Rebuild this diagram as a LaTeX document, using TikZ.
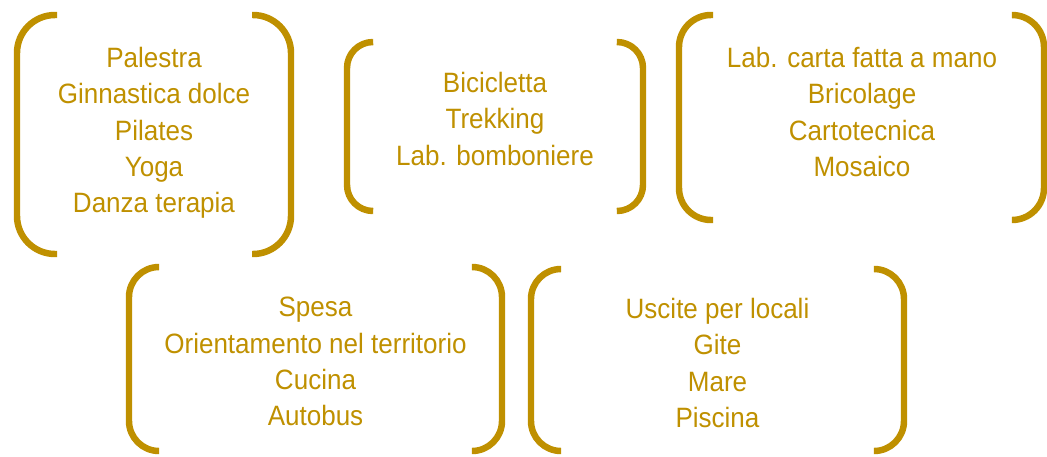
\documentclass[tikz,border=0pt]{standalone}
\usepackage{fontspec}
\setmainfont{Liberation Sans}[FakeStretch=0.93]
\definecolor{oro}{HTML}{BF9000}

\begin{document}
\begin{tikzpicture}[x=0.025cm, y=-0.025cm,
	parentesi/.style={oro, line width=4.6pt},
	lista/.style={anchor=north, inner sep=0pt, align=center, text=oro, font=\fontsize{19.9}{25.8}\selectfont}]
	\useasboundingbox (0,0) rectangle (1047,456);

	\draw[parentesi, rounded corners=0.95cm] (57,15) -- (17,15) -- (17,254) -- (57,254);
	\draw[parentesi, rounded corners=0.95cm] (252,15) -- (291,15) -- (291,254) -- (252,254);
	\draw[parentesi, rounded corners=0.65cm] (373,42) -- (347,42) -- (347,211) -- (373,211);
	\draw[parentesi, rounded corners=0.65cm] (617,42) -- (643,42) -- (643,211) -- (617,211);
	\draw[parentesi, rounded corners=0.8cm] (713,15) -- (679,15) -- (679,220) -- (713,220);
	\draw[parentesi, rounded corners=0.8cm] (1013,15) -- (1044,15) -- (1044,220) -- (1013,220);
	\draw[parentesi, rounded corners=0.75cm] (159,267) -- (129,267) -- (129,451) -- (159,451);
	\draw[parentesi, rounded corners=0.75cm] (473,267) -- (502,267) -- (502,451) -- (473,451);
	\draw[parentesi, rounded corners=0.75cm] (560,269) -- (531,269) -- (531,451) -- (560,451);
	\draw[parentesi, rounded corners=0.75cm] (874,269) -- (904,269) -- (904,451) -- (874,451);

	\node[lista] (sport) at (154,47) {Palestra\\Ginnastica dolce\\Pilates\\Yoga\\Danza terapia};
	\node[lista] (natura) at (495,72) {Bicicletta\\Trekking\\Lab. bomboniere};
	\node[lista] (laboratori) at (862,47) {Lab. carta fatta a mano\\Bricolage\\Cartotecnica\\Mosaico};
	\node[lista] (autonomia) at (315.5,297) {Spesa\\Orientamento nel territorio\\Cucina\\Autobus};
	\node[lista] (svago) at (717.5,298) {Uscite per locali\\Gite\\Mare\\Piscina};
\end{tikzpicture}
\end{document}
